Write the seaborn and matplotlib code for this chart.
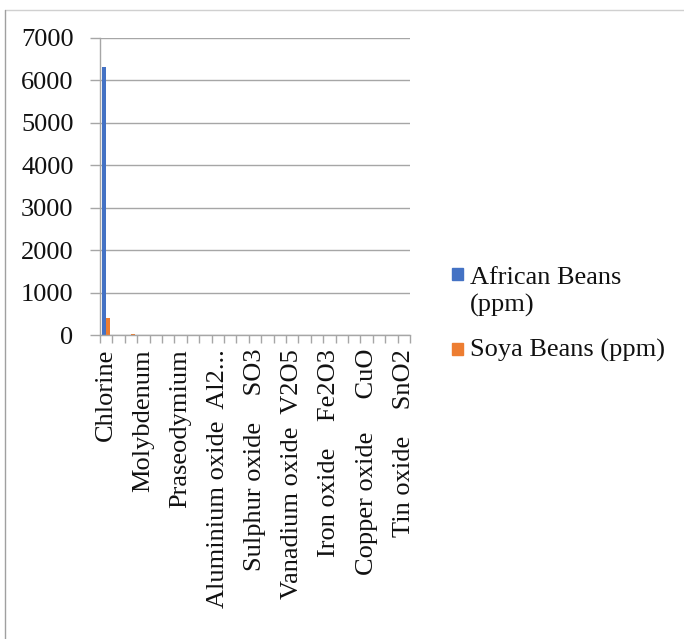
import seaborn as sns
import matplotlib.pyplot as plt
from matplotlib.patches import Rectangle
from matplotlib.lines import Line2D
import numpy as np
import pandas as pd

# ------------------------------
# Data (ppm)
# ------------------------------
categories = [
    "Chlorine", "Potassium", "Calcium",
    "Molybdenum", "Zirconium", "Strontium",
    "Praseodymium", "Rubidium", "Bromine",
    "Aluminium oxide Al2O3", "Silicon oxide SiO2", "Phosphorus oxide P2O5",
    "Sulphur oxide SO3", "Potassium oxide K2O", "Calcium oxide CaO",
    "Vanadium oxide V2O5", "Chromium oxide Cr2O3", "Manganese oxide MnO",
    "Iron oxide Fe2O3", "Nickel oxide NiO", "Zinc oxide ZnO",
    "Copper oxide CuO", "Titanium oxide TiO2", "Barium oxide BaO",
    "Tin oxide SnO2",
]
african = [6320, 6, 4, 3, 2, 2, 1, 1, 1, 2, 1, 1, 2, 1, 1, 1, 1, 1, 2, 1, 1, 1, 1, 1, 1]
soya = [410, 5, 35, 3, 2, 2, 1, 1, 1, 2, 1, 1, 2, 1, 1, 1, 1, 1, 2, 1, 1, 1, 1, 1, 1]

series = ["African Beans (ppm)", "Soya Beans (ppm)"]
colors = ["#4472C4", "#ED7D31"]

# labels Excel actually shows (every third category)
shown_idx = list(range(0, 25, 3))
shown_labels = [
    "Chlorine",
    "Molybdenum",
    "Praseodymium",
    "Aluminium oxide  Al2...",
    "Sulphur oxide    SO3",
    "Vanadium oxide  V2O5",
    "Iron oxide    Fe2O3",
    "Copper oxide     CuO",
    "Tin oxide    SnO2",
]

df = pd.DataFrame({
    "element": categories * 2,
    "series": [series[0]] * len(categories) + [series[1]] * len(categories),
    "ppm": african + soya,
})

# ------------------------------
# Plot
# ------------------------------
sns.set_style("white")
plt.rcParams["font.family"] = ["Liberation Serif", "DejaVu Serif"]

fig = plt.figure(figsize=(6.84, 6.39), dpi=100)
ax = fig.add_axes([100 / 684, 1 - 335 / 639, 310 / 684, 297 / 639])

sns.barplot(
    data=df, x="element", y="ppm", hue="series",
    order=categories, hue_order=series, palette=colors,
    width=0.66, saturation=1, legend=False, linewidth=0, ax=ax,
)

grey = "#a6a6a6"
ax.set_ylim(0, 7000)
ax.set_yticks(range(0, 7001, 1000))
ax.set_xlim(-0.5, len(categories) - 0.5)
ax.yaxis.grid(True, color=grey, linewidth=1)
ax.set_axisbelow(True)
for s in ["top", "right"]:
    ax.spines[s].set_visible(False)
for s in ["left", "bottom"]:
    ax.spines[s].set_color(grey)
    ax.spines[s].set_linewidth(1)

ax.set_xticks(shown_idx)
ax.set_xticklabels(shown_labels, rotation=90, ha="center", va="top")
ax.set_xticks(np.arange(-0.5, len(categories), 1), minor=True)
ax.tick_params(axis="x", which="both", bottom=True)
ax.tick_params(axis="x", which="major", length=0, pad=10, labelsize=19, colors="#111111")
ax.tick_params(axis="x", which="minor", length=6, width=1, color=grey, direction="out")
ax.tick_params(axis="y", left=True, length=7, width=1, color=grey, pad=12,
               labelsize=19, labelcolor="#111111")
ax.set_xlabel("")
ax.set_ylabel("")


# legend drawn by hand to match Excel layout
def fx(px):
    return px / 684


def fy(py):
    return 1 - py / 639


fig.patches.append(Rectangle((fx(452), fy(280)), 11 / 684, 12 / 639,
                             transform=fig.transFigure, color=colors[0]))
fig.patches.append(Rectangle((fx(452), fy(355)), 11 / 684, 12 / 639,
                             transform=fig.transFigure, color=colors[1]))
fig.text(fx(470), fy(284), "African Beans", fontsize=19, va="baseline", color="#111111")
fig.text(fx(470), fy(312), "(ppm)", fontsize=19, va="baseline", color="#111111")
fig.text(fx(470), fy(357), "Soya Beans (ppm)", fontsize=19, va="baseline", color="#111111")

# outer chart border (partly cropped in the screenshot)
fig.lines.append(Line2D([fx(5), 1], [fy(10), fy(10)], transform=fig.transFigure,
                        color="#d0d0d0", linewidth=1))
fig.lines.append(Line2D([fx(5), fx(5)], [fy(10), 0], transform=fig.transFigure,
                        color="#a0a0a0", linewidth=1))

fig.savefig("out.png", dpi=100)
